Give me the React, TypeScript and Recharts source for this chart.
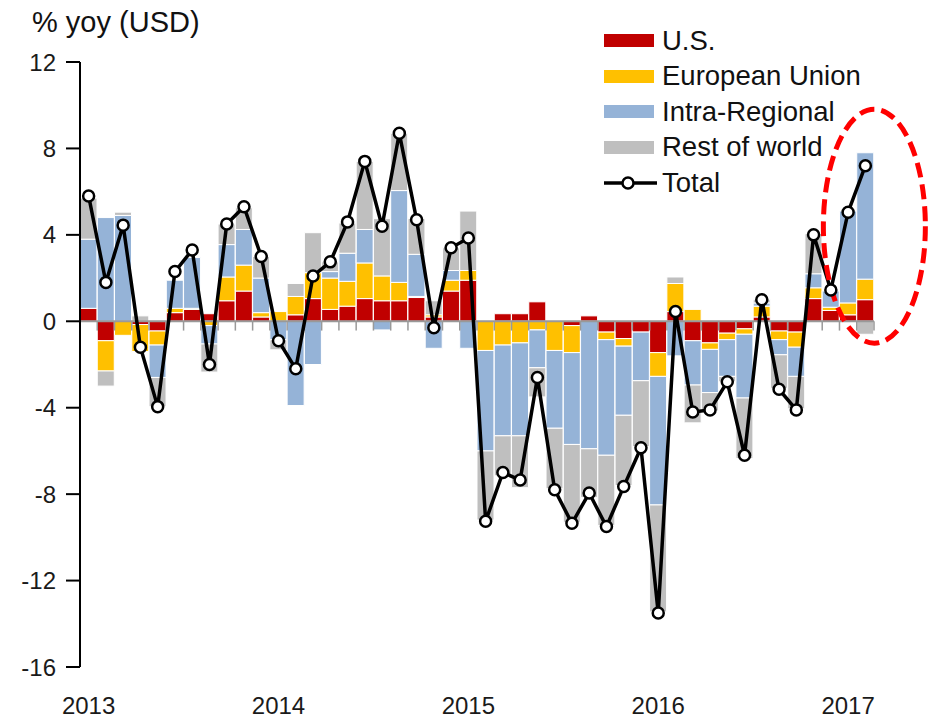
import React from 'react';
import {
  ComposedChart, Bar, Line, XAxis, YAxis, ReferenceLine, ReferenceDot, Legend,
} from 'recharts';

// contributions to export growth, % yoy (USD)
const usValues = [
  0.6, -0.9, 0, -0.15, -0.45, 0.4, 0.55, 0.35, 0.95, 1.4, 0.2, 0,
  0.3, 1.05, 0.55, 0.7, 1.05, 0.95, 0.95, 1.1, 0.2, 1.4, 1.9,
  0, 0.35, 0.35, 0.9, 0, -0.2, 0.25, -0.5, -0.8, -0.5, -1.45,
  0.45, -0.9, -1.0, -0.55, -0.35, 0.2, -0.45, -0.5, 1.05, 0.5, 0.3, 1.0,
];
const euValues = [
  0, -1.4, -0.65, -1.25, -0.65, 0.2, 0.05, -0.2, 1.1, 1.2, 0.2, 0.45,
  0.85, 1.2, 1.45, 1.15, 1.65, 1.15, 0.85, 0.05, 0.1, 0.5, 0.45,
  -1.35, -1.1, -1.0, -0.4, -1.35, -1.25, 0, -0.35, -0.35, 0, -1.1,
  1.3, 0.55, -0.3, -0.3, -0.25, 0.5, -0.4, -0.7, 0.5, 0.15, 0.55, 0.95,
];
const intraValues = [
  3.2, 4.8, 4.9, 0, -1.5, 1.3, 2.35, -0.85, 1.5, 1.65, 1.6, -0.86,
  -3.9, -2.0, 0.3, 1.3, 1.55, -0.4, 4.25, 1.95, -1.25, 0.45, -1.25,
  -4.65, -4.2, -4.3, -1.75, -3.6, -4.25, -5.9, -5.35, -3.2, -2.25, -5.95,
  -1.6, -2.05, -2.0, -1.7, -2.95, 0.15, -0.7, -1.35, 0.65, 0.75, 4.25, 5.85,
];
const restValues = [
  1.9, -0.7, 0.15, 0.25, -1.35, 0, 0, -1.3, 0.95, 1.0, 1.0, -0.46,
  0.6, 1.85, 0.45, 1.4, 3.15, 2.65, 2.65, 1.65, 0.65, 1.05, 2.75,
  -3.2, -1.85, -2.4, -1.35, -2.8, -3.6, -2.25, -3.25, -3.25, -3.05, -4.95,
  0.3, -1.75, -0.85, -0.25, -2.8, 0.15, -1.55, -1.5, 1.85, 0, 0, -0.6,
];
const totalValues = [
  5.8, 1.8, 4.45, -1.2, -3.95, 2.3, 3.3, -2.0, 4.5, 5.3, 3.0, -0.9,
  -2.2, 2.1, 2.75, 4.6, 7.4, 4.4, 8.7, 4.7, -0.3, 3.4, 3.85,
  -9.25, -7.0, -7.35, -2.6, -7.8, -9.35, -7.95, -9.5, -7.65, -5.85, -13.5,
  0.45, -4.2, -4.1, -2.8, -6.2, 1.0, -3.15, -4.1, 4.0, 1.45, 5.05, 7.2,
];

const yearLabels = ['2013', '2014', '2015', '2016', '2017'];
const yearTickIndex = [0, 11, 22, 33, 44];
const yTicks = [-16, -12, -8, -4, 0, 4, 8, 12];

const SERIES = [
  { key: 'us', name: 'U.S.', color: '#C00000' },
  { key: 'eu', name: 'European Union', color: '#FFC000' },
  { key: 'intra', name: 'Intra-Regional', color: '#95B3D7' },
  { key: 'rest', name: 'Rest of world', color: '#BFBFBF' },
];

const FONT = '"Liberation Sans", Arial, sans-serif';

const chartData = totalValues.map((total, i) => ({
  idx: i,
  us: usValues[i],
  eu: euValues[i],
  intra: intraValues[i],
  rest: restValues[i],
  total,
}));

const LegendContent = () => (
  <div style={{ fontFamily: FONT, fontSize: 27.5, color: '#111' }}>
    {SERIES.map(s => (
      <div key={s.key} style={{ display: 'flex', alignItems: 'center', height: 35.5 }}>
        <span style={{ display: 'inline-block', width: 50, height: 13, background: s.color, marginRight: 8 }} />
        {s.name}
      </div>
    ))}
    <div style={{ display: 'flex', alignItems: 'center', height: 35.5 }}>
      <svg width={53} height={16} style={{ marginRight: 5 }}>
        <line x1={0} y1={8} x2={53} y2={8} stroke="#000" strokeWidth={3.5} />
        <circle cx={24} cy={8} r={5.5} fill="#fff" stroke="#000" strokeWidth={2.5} />
      </svg>
      Total
    </div>
  </div>
);

const App: React.FC = () => {
  const boundaries = chartData.slice(1).map(d => d.idx);

  return (
    <div style={{ position: 'absolute', left: 0, top: 0, width: 930, height: 718, background: '#fff' }}>
      <div style={{
        position: 'absolute', left: 32, top: 8, fontFamily: FONT, fontSize: 29,
        lineHeight: '29px', color: '#111', whiteSpace: 'nowrap',
      }}>
        % yoy (USD)
      </div>
      <ComposedChart
        width={930}
        height={718}
        data={chartData}
        stackOffset="sign"
        barCategoryGap={0}
        barGap={0}
        margin={{ top: 62, right: 56, left: 20, bottom: 0 }}
      >
        <XAxis
          dataKey="idx"
          type="category"
          ticks={yearTickIndex}
          interval={0}
          tickFormatter={v => yearLabels[yearTickIndex.indexOf(Number(v))] ?? ''}
          axisLine={false}
          tickLine={false}
          tickSize={0}
          tickMargin={30}
          height={51}
          tick={{ fill: '#1a1a1a', fontSize: 24, fontFamily: FONT }}
        />
        <YAxis
          domain={[-16, 12]}
          ticks={yTicks}
          interval={0}
          width={60}
          allowDataOverflow
          axisLine={{ stroke: '#000', strokeWidth: 2 }}
          tickLine={{ stroke: '#000', strokeWidth: 2 }}
          tickSize={14}
          tickMargin={10}
          tick={{ fill: '#1a1a1a', fontSize: 24, fontFamily: FONT }}
        />
        <ReferenceLine y={0} stroke="#999" strokeWidth={2} />
        {boundaries.map(i => (
          <ReferenceLine
            key={`t${i}`}
            segment={[{ x: i, y: 0 }, { x: i, y: -0.43 }]}
            position="start"
            stroke="#999"
            strokeWidth={1.5}
          />
        ))}
        <ReferenceLine
          segment={[{ x: 45, y: 0 }, { x: 45, y: -0.43 }]}
          position="end"
          stroke="#999"
          strokeWidth={1.5}
        />
        {SERIES.map(s => (
          <Bar
            key={s.key}
            dataKey={s.key}
            name={s.name}
            stackId="s"
            fill={s.color}
            stroke="#fff"
            strokeWidth={1}
            isAnimationActive={false}
          />
        ))}
        <Line
          dataKey="total"
          name="Total"
          type="linear"
          stroke="#000"
          strokeWidth={3.5}
          dot={{ r: 5.5, fill: '#fff', stroke: '#000', strokeWidth: 2.5 }}
          isAnimationActive={false}
        />
        {/* highlight of the latest readings */}
        <ReferenceDot
          x={45}
          y={4.4}
          ifOverflow="visible"
          shape={(p: any) => (
            <ellipse
              cx={p.cx + 9}
              cy={p.cy}
              rx={51}
              ry={117}
              fill="none"
              stroke="#FF0000"
              strokeWidth={5}
              strokeDasharray="15 7"
            />
          )}
        />
        <Legend
          layout="horizontal"
          verticalAlign="middle"
          align="center"
          content={<LegendContent />}
          wrapperStyle={{ top: 23, left: 604, width: 300 }}
        />
      </ComposedChart>
    </div>
  );
};

export default App;
